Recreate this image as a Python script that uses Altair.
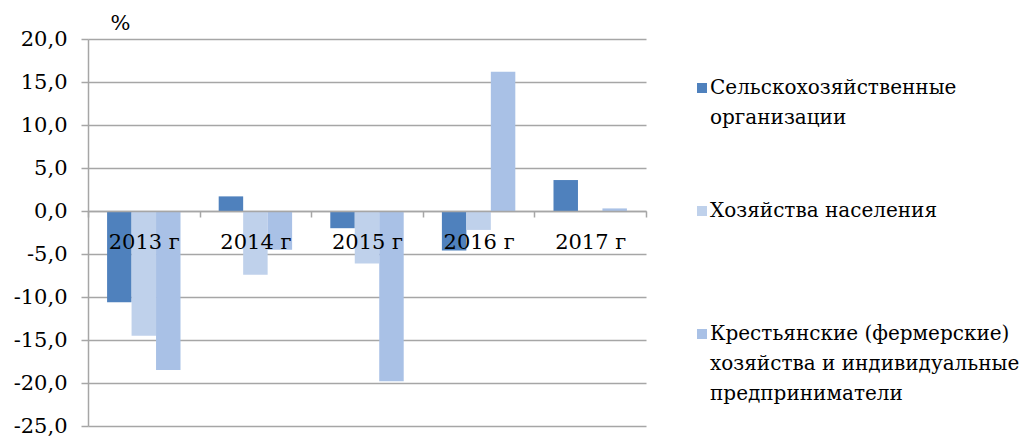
import altair as alt
import pandas as pd

years = ["2013 г", "2014 г", "2015 г", "2016 г", "2017 г"]
series = [
    "Сельскохозяйственные организации",
    "Хозяйства населения",
    "Крестьянские (фермерские) хозяйства и индивидуальные предприниматели",
]
legend_lines = [
    "Сельскохозяйственные\nорганизации",
    "Хозяйства населения",
    "Крестьянские (фермерские)\nхозяйства и индивидуальные\nпредприниматели",
]
agri_org = [-10.6, 1.7, -2.0, -4.6, 3.6]
households = [-14.5, -7.4, -6.1, -2.2, 0.0]
farmers = [-18.5, -4.5, -19.8, 16.2, 0.3]
colors = ["#4f81bd", "#bfd1eb", "#a9c1e6"]
y_ticks = [-25, -20, -15, -10, -5, 0, 5, 10, 15, 20]

rows = []
for vals, s in zip([agri_org, households, farmers], series):
    for y, v in zip(years, vals):
        rows.append({"year": y, "series": s, "value": v})
df = pd.DataFrame(rows)

FONT = "DejaVu Serif"
W, H = 558, 387
YMIN, YMAX = -25, 20
zero_offset = -H * (0 - YMIN) / (YMAX - YMIN)
GRID = "#a6a6a6"

main = alt.Chart(df).mark_bar().encode(
    x=alt.X(
        "year:N",
        sort=years,
        scale=alt.Scale(paddingInner=0, paddingOuter=0),
        axis=alt.Axis(
            title=None,
            orient="bottom",
            offset=zero_offset,
            domainColor=GRID,
            domainWidth=1.5,
            tickColor=GRID,
            tickWidth=1.5,
            tickSize=6,
            tickBand="extent",
            labelAngle=0,
            labelFont=FONT,
            labelFontSize=21,
            labelColor="#000000",
            labelPadding=14,
            labelBaseline="top",
            zindex=1,
            grid=False,
        ),
    ),
    xOffset=alt.XOffset("series:N", sort=series, scale=alt.Scale(paddingInner=0, paddingOuter=0.78)),
    y=alt.Y(
        "value:Q",
        scale=alt.Scale(domain=[YMIN, YMAX], nice=False, zero=True),
        axis=alt.Axis(
            values=y_ticks,
            labelExpr="replace(replace(format(datum.value, '.1f'), '.', ','), '\u2212', '-')",
            title="%",
            titleAngle=0,
            titleX=32,
            titleY=-6,
            titleAlign="center",
            titleBaseline="bottom",
            titleFont=FONT,
            titleFontSize=21,
            titleFontWeight="normal",
            titleColor="#000000",
            labelFont=FONT,
            labelFontSize=21,
            labelColor="#000000",
            labelPadding=14,
            tickSize=7,
            tickColor=GRID,
            tickWidth=1.5,
            domainColor=GRID,
            domainWidth=1.5,
            gridColor=GRID,
            gridWidth=1.5,
        ),
    ),
    color=alt.Color("series:N", sort=series, scale=alt.Scale(domain=series, range=colors), legend=None),
).properties(width=W, height=H)

leg_df = pd.DataFrame({"series": series, "text": legend_lines})
leg_y = alt.Y("series:N", sort=series, scale=alt.Scale(paddingInner=0, paddingOuter=0), axis=None)
leg_sq = alt.Chart(leg_df).mark_square(size=100, yOffset=-12.5, opacity=1).encode(
    x=alt.value(5),
    y=leg_y,
    color=alt.Color("series:N", sort=series, scale=alt.Scale(domain=series, range=colors), legend=None),
)
leg_txt = alt.Chart(leg_df).mark_text(
    align="left", baseline="middle", lineBreak="\n", font=FONT, fontSize=20, lineHeight=30, dy=-12.5, color="#000000"
).encode(
    x=alt.value(13),
    y=leg_y,
    text="text:N",
)
legend = alt.layer(leg_sq, leg_txt).properties(width=300, height=369)

chart = alt.hconcat(main, legend, spacing=50).properties(
    padding={"left": 5, "top": 4, "right": 0, "bottom": 0}
).configure(font=FONT).configure_view(stroke=None)

chart.save("out.html", embed_options={"renderer": "svg", "actions": False})
